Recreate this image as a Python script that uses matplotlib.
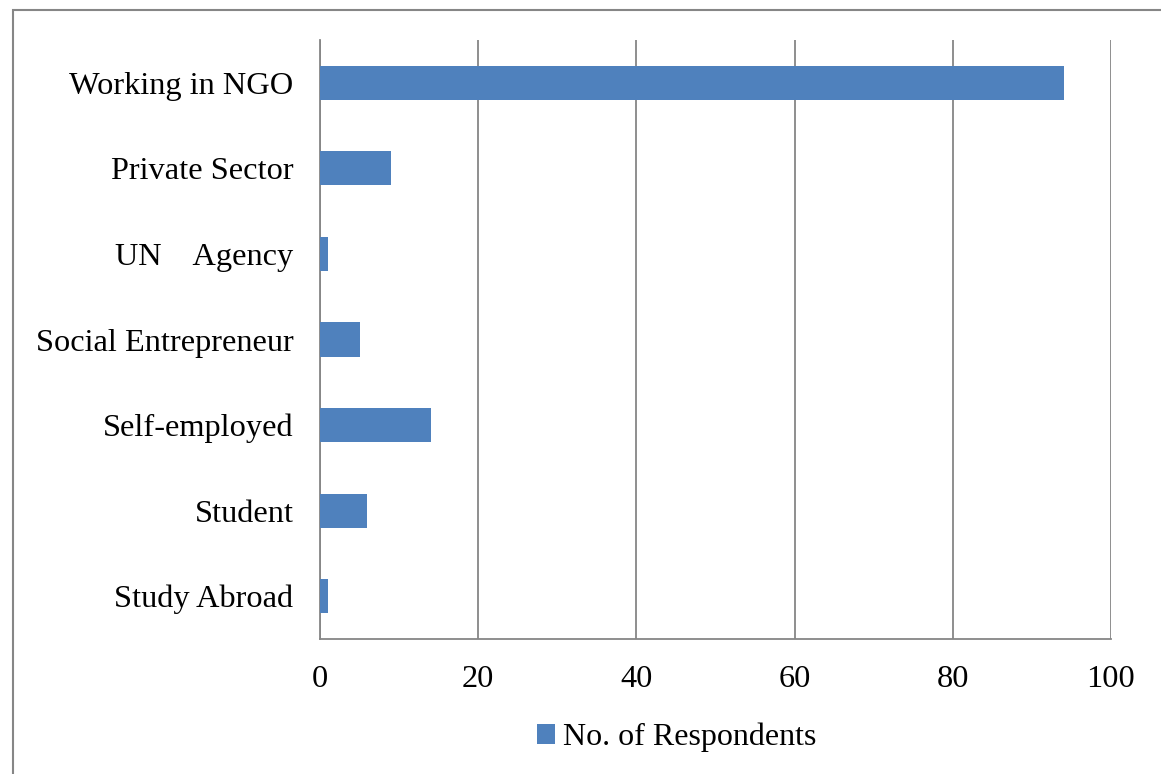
import matplotlib.pyplot as plt
from matplotlib.patches import Rectangle

plt.rcParams['font.family'] = ['Liberation Serif', 'DejaVu Serif']

# status of respondents, top to bottom
categories = ["Working in NGO", "Private Sector", "UN    Agency",
              "Social Entrepreneur", "Self-employed", "Student", "Study Abroad"]
respondents = [94, 9, 1, 5, 14, 6, 1]
x_ticks = [0, 20, 40, 60, 80, 100]

fig = plt.figure(figsize=(11.61, 7.74), dpi=100)
ax = fig.add_axes([0.2756, 0.1744, 0.6813, 0.7739])

pos = range(len(categories))
ax.barh(pos, respondents, height=0.4, color="#4F81BD", zorder=3,
        label="No. of Respondents")

ax.set_xlim(0, 100)
ax.set_ylim(len(categories) - 0.5, -0.5)
ax.set_xticks(x_ticks)
ax.set_yticks(list(pos))
ax.set_yticklabels(categories)
ax.tick_params(axis="both", length=0, labelsize=23.3, colors="black")
ax.tick_params(axis="x", pad=19)
ax.tick_params(axis="y", pad=19)

ax.grid(axis="x", color="#868686", linewidth=1.3, zorder=0)
for side in ["top", "right"]:
    ax.spines[side].set_visible(False)
for side in ["left", "bottom"]:
    ax.spines[side].set_color("#868686")
    ax.spines[side].set_linewidth(1.3)

ax.legend(loc="upper center", bbox_to_anchor=(0.451, -0.092), frameon=False,
          fontsize=23, handlelength=0.55, handleheight=0.55, handletextpad=0.25)

# outer frame of the chart area
fig.patches.append(Rectangle((13 / 1161, -0.1), 1.2, 1 - 10 / 774 + 0.1,
                             transform=fig.transFigure, fill=False,
                             edgecolor="#868686", linewidth=1.5))

fig.savefig("out.png", dpi=100)
